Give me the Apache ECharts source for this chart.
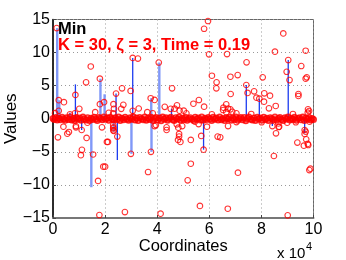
<!DOCTYPE html>
<html><head><meta charset="utf-8">
<script src="https://cdn.jsdelivr.net/npm/echarts@6/dist/echarts.min.js"></script>
<style>html,body{margin:0;padding:0;background:#fff}#c{width:346px;height:260px}</style>
</head><body><div id="c"></div>
<script>
const xTicks = [0,2,4,6,8,10];
const yTicks = [-15,-10,-5,0,5,10,15];
const titleTop = "Min";
const titleSub = "K = 30, ζ = 3, Time = 0.19";
const wideStems = [[0.14,13.7],[1.8,6.05],[1.96,3.7],[4.06,8.5],[3.75,3.1],[1.45,-10.35],[2.99,-5.3],[3.76,-5],[2.31,-1.95],[0.22,2.8]];
const narrowStems = [[0.86,5.2],[3.06,9.2],[2.42,3.8],[2.47,-6.25],[7.42,5.1],[7.92,3.03],[9.03,8.87],[5.78,-4.67],[9.66,-2.2],[1.1,-1.7],[4.55,1.5],[8.42,-1.1],[0.65,0.9]];
const upperPoints = [[0.14,13.7],[0.22,2.8],[0.42,2.5],[0.22,1.2],[0.08,0.85],[1.45,7.9],[1.27,5.5],[1.8,6.05],[1.8,2.2],[1.96,2.5],[0.86,3.6],[1.01,1.5],[1.62,1.0],[3.06,9.2],[3.26,9.1],[4.06,8.5],[2.42,3.8],[2.65,4.6],[2.98,4.2],[2.32,2.2],[2.7,2.1],[2.34,1.5],[2.62,1.5],[3.29,1.55],[3.06,1.2],[3.75,3.1],[3.9,2.85],[4.29,1.8],[4.57,4.6],[4.52,1.5],[3.62,1.0],[2.14,0.9],[0.65,0.67],[0.84,0.82],[2.31,0.82],[3.83,0.82],
[5.95,14.77],[5.8,13.6],[5.99,9.73],[6.68,9.78],[7.43,8.53],[8.84,12.9],[8.52,10.13],[9.7,10.28],[9.03,8.87],[9.53,7.97],[8.97,7.1],[9.08,5.85],[8.05,6.26],[9.7,6.05],[9.74,6.26],[6.1,6.5],[6.81,6.35],[7.09,6.6],[6.28,5.5],[6.27,4.6],[7.42,5.1],[7.47,3.9],[7.72,4.15],[6.82,3.74],[8.11,3.84],[7.81,3.18],[7.92,3.03],[8.33,3.48],[9.42,3.74],[9.42,3.44],[8.1,2.58],[8.55,1.93],[8.29,1.58],[5.6,2.83],[5.39,2.27],[5.8,1.82],[6.65,2.18],[6.54,1.67],[6.53,1.32],[6.72,1.52],[6.81,1.42],[6.88,1.06],[7.04,0.82],[6.65,1.0],[4.76,2.03],[4.67,1.52],[4.86,1.22],[5.02,1.22],[5.12,0.82],[9.79,1.42],[9.83,1.17],[9.78,0.92],[7.61,0.72],[9.21,0.72],[6.1,0.67]];
const lowerPoints = [[0.4,-1.2],[0.88,-1.1],[0.88,-1.3],[1.32,-0.6],[1.88,-1.3],[2.32,-1.3],[3.9,-1.1],[4.36,-1.3],[0.19,-2.8],[0.55,-2.25],[0.61,-2],[1.1,-1.7],[1.29,-2.9],[1.11,-4.7],[1.07,-5.5],[1.54,-5.4],[1.73,-9.4],[1.93,-7.25],[2.0,-7.25],[2.07,-3.5],[2.11,-3.5],[2.47,-2.7],[2.32,-1.75],[2.99,-5.3],[3.76,-5.0],[3.65,-8.05],[1.78,-14.55],[2.76,-14.1],[4.13,-14.35],[4.36,-1.7],[2.31,-0.95],[2.31,-1.45],[2.33,-1.85],[3.95,-0.95],[4.75,-0.85],[4.81,-1.35],
[4.96,-1.1],[5.45,-0.45],[5.59,-0.8],[5.91,-1.2],[6.72,-1.1],[7.04,-0.5],[8.42,-1.1],[8.66,-1.25],[8.68,-1.2],[8.65,-0.7],[8.01,-0.53],[8.99,-0.6],[9.32,-0.53],[9.66,-1.7],[9.85,-0.45],[4.84,-2.3],[4.84,-2.7],[4.8,-3.2],[4.89,-3.5],[5.29,-3.2],[5.69,-2.6],[5.78,-4.67],[6.32,-2.7],[6.42,-2.8],[5.29,-6.8],[5.17,-9.3],[7.1,-8.15],[5.64,-13.18],[6.71,-13.6],[9.01,-14.6],[8.48,-5.63],[8.56,-2.2],[9.38,-3.6],[9.63,-4.07],[9.78,-3.8],[9.72,-3.1],[9.66,-2.3],[9.7,-1.95],[9.84,-7.75],[9.88,-7.55],[9.8,-3.97]];
const zeroBand = [[0,0.02],[0.05,-0.12],[0.11,0.18],[0.16,-0.2],[0.23,0.07],[0.28,-0.15],[0.35,0.22],[0.41,-0.05],[0.47,-0.24],[0.52,0.14],[0.6,-0.1],[0.65,0.25],[0.72,-0.18],[0.78,0.05],[0.83,-0.27],[0.9,0.2],[0.96,-0.08],[1.02,0.12],[1.08,-0.22],[1.15,0.26],[1.2,-0.03],[1.27,-0.19],[1.33,0.16],[1.4,-0.25],[1.46,0.09],[1.52,-0.12],[1.58,0.23],[1.65,-0.06],[1.7,-0.28],[1.77,0.19],[1.83,0.02],[1.89,-0.17],[1.95,0.27],[2.02,-0.09],[2.08,0.13],[2.14,-0.24],[2.2,0.21],[2.27,-0.02],[2.33,-0.2],[2.39,0.17],[2.46,-0.11],[2.52,0.28],[2.58,-0.26],[2.64,0.06],[2.71,-0.14],[2.77,0.24],[2.83,-0.04],[2.9,-0.23],[2.96,0.15],[3.02,-0.07],[3.08,0.29],[3.15,-0.18],[3.21,0.1],[3.27,-0.27],[3.33,0.2],[3.4,-0.01],[3.46,-0.16],[3.52,0.25],[3.58,-0.21],[3.65,0.08],[3.71,-0.1],[3.77,0.22],[3.84,-0.25],[3.9,0.03],[3.96,0.18],[4.02,-0.19],[4.09,0.11],[4.15,-0.29],[4.21,0.26],[4.27,-0.06],[4.34,0.14],[4.4,-0.22],[4.46,0.04],[4.52,0.23],[4.59,-0.13],[4.65,-0.26],[4.71,0.17],[4.77,-0.03],[4.84,0.28],[4.9,-0.2],[4.96,0.07],[5.02,-0.15],[5.09,0.21],[5.15,-0.24],[5.21,0.01],[5.27,0.16],[5.34,-0.09],[5.4,-0.28],[5.46,0.24],[5.52,-0.05],[5.59,0.12],[5.65,-0.18],[5.71,0.27],[5.77,-0.23],[5.84,0.06],[5.9,-0.12],[5.96,0.19],[6.02,-0.02],[6.09,-0.25],[6.15,0.22],[6.21,-0.08],[6.27,0.1],[6.34,-0.2],[6.4,0.25],[6.46,-0.16],[6.52,0.03],[6.59,-0.27],[6.65,0.15],[6.71,-0.04],[6.77,0.23],[6.84,-0.21],[6.9,0.09],[6.96,-0.11],[7.02,0.28],[7.09,-0.24],[7.15,0.0],[7.21,0.18],[7.27,-0.14],[7.34,0.2],[7.4,-0.29],[7.46,0.05],[7.52,0.26],[7.59,-0.07],[7.65,-0.19],[7.71,0.13],[7.77,-0.25],[7.84,0.21],[7.9,-0.03],[7.96,0.11],[8.02,-0.22],[8.09,0.24],[8.15,-0.1],[8.21,0.07],[8.27,-0.26],[8.34,0.17],[8.4,-0.01],[8.46,-0.17],[8.52,0.27],[8.59,-0.23],[8.65,0.04],[8.71,0.19],[8.77,-0.13],[8.84,-0.28],[8.9,0.14],[8.96,-0.05],[9.02,0.25],[9.09,-0.2],[9.15,0.08],[9.21,-0.11],[9.27,0.22],[9.34,-0.24],[9.4,0.02],[9.46,0.16],[9.52,-0.15],[9.59,0.26],[9.65,-0.27],[9.71,0.1],[9.77,-0.06],[9.83,0.2],[9.89,-0.19],[9.95,0.05],[10,-0.1]];

const chart = echarts.init(document.getElementById('c'), null, {renderer:'canvas'});
const FF = '"Liberation Sans", Arial, sans-serif';
const circle = {symbol:'circle', symbolSize:5.6, clip:false, silent:true, animation:false,
  itemStyle:{color:'rgba(0,0,0,0)', borderColor:'#ff0000', borderWidth:1.1}};
chart.setOption({
  animation:false,
  backgroundColor:'#fff',
  grid:{left:53, top:19.5, right:32.5, bottom:42, outerBoundsMode:'none', containLabel:false, show:true, borderColor:'#666', borderWidth:1, backgroundColor:'#fff'},
  xAxis:{type:'value', min:xTicks[0], max:xTicks[xTicks.length-1], interval:2,
    name:'Coordinates', nameLocation:'middle', nameGap:20, nameMoveOverlap:false,
    nameTextStyle:{fontFamily:FF, fontSize:16.5, color:'#000'},
    axisLine:{onZero:false, lineStyle:{color:'#777', width:2}},
    axisTick:{inside:true, length:3, lineStyle:{color:'#444'}},
    axisLabel:{fontFamily:FF, fontSize:16, color:'#000', margin:4, hideOverlap:false, showMinLabel:true, showMaxLabel:true},
    splitLine:{show:true, lineStyle:{type:[1,3], color:'#999', width:1}}},
  yAxis:{type:'value', min:yTicks[0], max:yTicks[yTicks.length-1], interval:5,
    name:'Values', nameLocation:'middle', nameGap:33, nameMoveOverlap:false,
    nameTextStyle:{fontFamily:FF, fontSize:17, color:'#000'},
    axisLine:{onZero:false, lineStyle:{color:'#000', width:1.5}},
    axisTick:{inside:true, length:3, lineStyle:{color:'#444'}},
    axisLabel:{fontFamily:FF, fontSize:16, color:'#000', margin:3, showMinLabel:true, showMaxLabel:true,
      formatter:v=>String(v).replace('-','\u2212')},
    splitLine:{show:true, lineStyle:{type:[1,3], color:'#999', width:1}}},
  series:[
    {type:'bar', data:wideStems, barWidth:2.4, barGap:'-100%', itemStyle:{color:'#8098f8'}, silent:true, z:2},
    {type:'bar', data:narrowStems, barWidth:1.3, barGap:'-100%', itemStyle:{color:'#1c3cf0'}, silent:true, z:3},
    Object.assign({type:'scatter', data:upperPoints, z:4}, circle),
    Object.assign({type:'scatter', data:lowerPoints, z:4}, circle),
    Object.assign({type:'scatter', data:zeroBand, z:5}, circle, {itemStyle:{color:'rgba(255,0,0,0.6)', borderColor:'#ff0000', borderWidth:1.4}})
  ],
  graphic:[
    {type:'text', left:58, top:21, z:100, style:{text:titleTop, font:'bold 16.5px '+FF, fill:'#000'}},
    {type:'text', left:58, top:37, z:100, style:{text:titleSub, font:'bold 16.5px '+FF, fill:'#ff0000'}},
    {type:'text', left:277, top:246.5, z:100, style:{text:'x 10', font:'15px '+FF, fill:'#000'}},
    {type:'text', left:306, top:241, z:100, style:{text:'4', font:'11px '+FF, fill:'#000'}}
  ]
});
</script></body></html>
